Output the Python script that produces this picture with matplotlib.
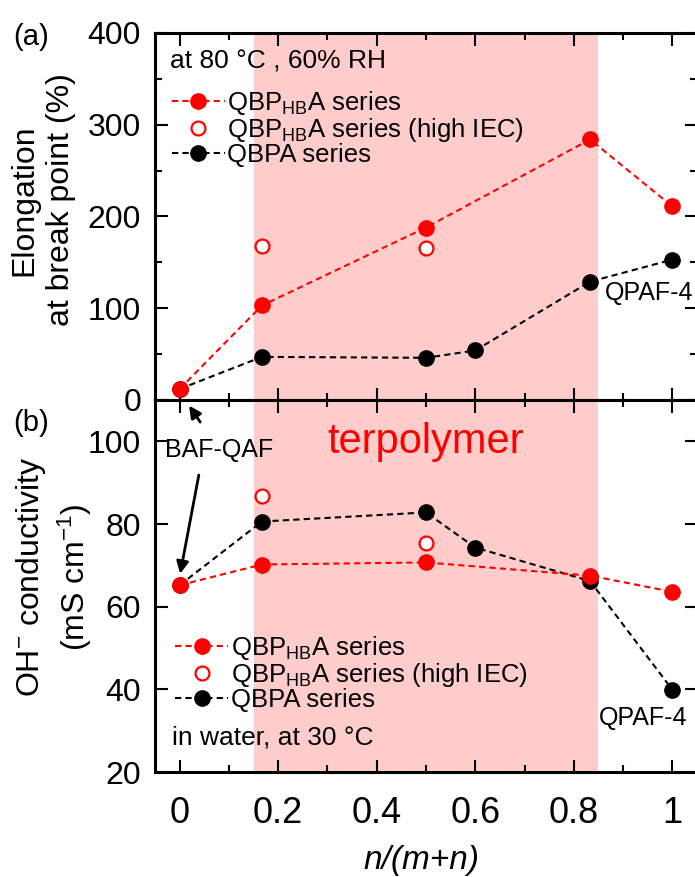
import numpy as np
import matplotlib
matplotlib.use('Agg')
import matplotlib.pyplot as plt
from matplotlib.lines import Line2D

plt.rcParams['font.family'] = ['Liberation Sans', 'DejaVu Sans']
plt.rcParams['mathtext.fontset'] = 'custom'
plt.rcParams['mathtext.rm'] = 'Liberation Sans'
plt.rcParams['mathtext.it'] = 'Liberation Sans:italic'

# data ========================================================================
x_hb = [0, 0.167, 0.5, 0.833, 1]
elong_hb = [12, 103, 188, 284, 211]
cond_hb = [65.2, 70.2, 70.7, 67.5, 63.6]

x_hb_high = [0.167, 0.5]
elong_hb_high = [168, 166]
cond_hb_high = [86.7, 75.5]

x_qbpa = [0, 0.167, 0.5, 0.6, 0.833, 1]
elong_qbpa = [12, 47, 46, 54, 129, 153]
cond_qbpa = [65.2, 80.6, 82.8, 74.3, 66.2, 39.9]

xticks = [0, 0.2, 0.4, 0.6, 0.8, 1]
xticklabels = ['0', '0.2', '0.4', '0.6', '0.8', '1']

lbl_hb = r'QBP$_\mathregular{HB}$A series'
lbl_hb_high = r'QBP$_\mathregular{HB}$A series (high IEC)'
lbl_qbpa = 'QBPA series'

# figure ======================================================================
W, H = 695, 877
fig = plt.figure(figsize=(W / 100, H / 100), dpi=100)
ax1 = fig.add_axes([155 / W, 1 - 400 / H, 542 / W, 367 / H])
ax2 = fig.add_axes([155 / W, 1 - 772 / H, 542 / W, 372 / H])

red = '#ff0000'
shade = '#ffcccc'
dash = (0, (3, 2))

for ax in (ax1, ax2):
    ax.axvspan(0.15, 0.85, color=shade, lw=0, zorder=0)
    ax.set_xlim(-0.05, 1.05)
    ax.set_xticks(xticks)
    ax.set_xticks(np.arange(0.1, 1.0, 0.2), minor=True)
    ax.tick_params(which='both', direction='in', top=True, right=True, width=1.5)
    ax.tick_params(which='major', length=9)
    ax.tick_params(which='minor', length=5)
    ax.tick_params(axis='y', labelsize=23, pad=10)
    for s in ax.spines.values():
        s.set_linewidth(2.2)

# (a) elongation
ax1.plot(x_qbpa, elong_qbpa, ls=dash, color='k', lw=1.5, marker='o', ms=11, zorder=3)
ax1.plot(x_hb, elong_hb, ls=dash, color=red, lw=1.5, marker='o', ms=11, zorder=4)
ax1.plot(x_hb_high, elong_hb_high, ls='none', marker='o', ms=10, mfc='white', mec=red, mew=1.6, zorder=4)
ax1.set_ylim(0, 400)
ax1.set_yticks([0, 100, 200, 300, 400])
ax1.set_yticks([50, 150, 250, 350], minor=True)
ax1.tick_params(axis='x', labelbottom=False)

# (b) conductivity
ax2.plot(x_qbpa, cond_qbpa, ls=dash, color='k', lw=1.5, marker='o', ms=11, zorder=3)
ax2.plot(x_hb, cond_hb, ls=dash, color=red, lw=1.5, marker='o', ms=11, zorder=4)
ax2.plot(x_hb_high, cond_hb_high, ls='none', marker='o', ms=10, mfc='white', mec=red, mew=1.6, zorder=4)
ax2.set_ylim(20, 110)
ax2.set_yticks([20, 40, 60, 80, 100])
ax2.set_xticklabels(xticklabels)
ax2.tick_params(axis='x', labelsize=26, pad=17)

# legends
handles = [
    Line2D([], [], ls=dash, color=red, lw=1.5, marker='o', ms=11),
    Line2D([], [], ls='none', marker='o', ms=10, mfc='white', mec=red, mew=1.6),
    Line2D([], [], ls=dash, color='k', lw=1.5, marker='o', ms=11),
]
labels = [lbl_hb, lbl_hb_high, lbl_qbpa]
for ax, anchor in ((ax1, (0.031, 0.741)), (ax2, (0.037, 0.266))):
    ax.legend(handles, labels, loc='center left', bbox_to_anchor=anchor, frameon=False,
              fontsize=18.5, handlelength=2.06, handletextpad=0.1, labelspacing=-0.04,
              borderpad=0, borderaxespad=0)

ax1.text(0.028, 0.921, u'at 80 \u00b0C , 60% RH', transform=ax1.transAxes,
         fontsize=19, va='center', ha='left')
ax2.text(0.031, 0.094, u'in water, at 30 \u00b0C', transform=ax2.transAxes,
         fontsize=19, va='center', ha='left')

ax1.text(0.864, 117, 'QPAF-4', fontsize=18, va='center', ha='left')
ax2.text(0.85, 33.1, 'QPAF-4', fontsize=18, va='center', ha='left')

ax2.text(0.5, 99.8, 'terpolymer', color=red, fontsize=30, ha='center', va='center')

# BAF-QAF arrows
ax2.text(0.081, 98, 'BAF-QAF', fontsize=18, ha='center', va='center')
ax2.annotate('', xy=(0.016, 109.2), xytext=(0.045, 104.1),
             arrowprops=dict(arrowstyle='-|>', color='k', lw=2, mutation_scale=18))
ax2.annotate('', xy=(0.0, 67.3), xytext=(0.04, 92.5),
             arrowprops=dict(arrowstyle='-|>', color='k', lw=2, mutation_scale=18))

# labels
fig.text(13 / W, 1 - 37 / H, '(a)', fontsize=21, ha='left', va='center')
fig.text(13 / W, 1 - 423 / H, '(b)', fontsize=21, ha='left', va='center')

fig.text(43 / W, 1 - 200 / H, 'Elongation\nat break point (%)', fontsize=23, rotation=90,
         ha='center', va='center', multialignment='center', linespacing=1.3)
fig.text(54 / W, 1 - 577 / H, 'OH$^{-}$ conductivity\n(mS cm$^{-1}$)', fontsize=23, rotation=90,
         ha='center', va='center', multialignment='center', linespacing=1.25)

fig.text(421 / W, 1 - 860 / H, 'n/(m+n)', fontsize=24, style='italic', ha='center', va='center')

fig.savefig('out.png', dpi=100)
